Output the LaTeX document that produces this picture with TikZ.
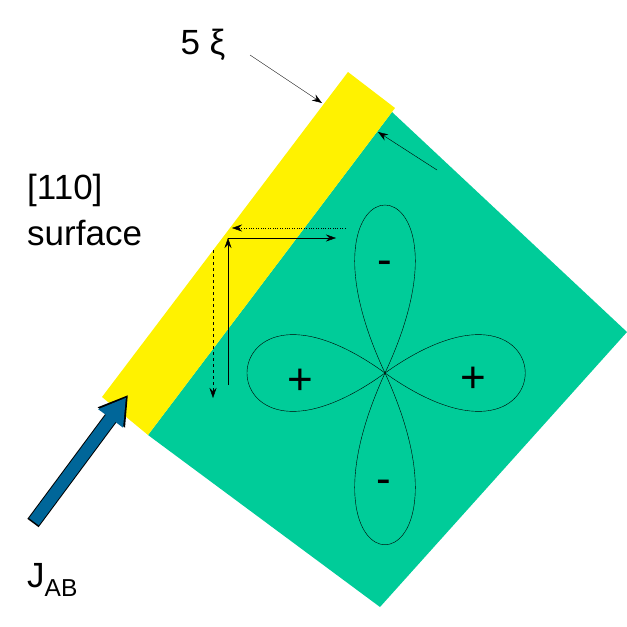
\documentclass[tikz,border=0pt]{standalone}
\usepackage{fontspec}
\setmainfont{Liberation Sans}
\usetikzlibrary{arrows.meta,calc}
\definecolor{sgreen}{RGB}{0,204,153}
\definecolor{sblue}{RGB}{0,102,153}
\begin{document}
\begin{tikzpicture}[x=1pt, y=-1pt,
    lbl/.style={font=\fontsize{35}{40}\selectfont, inner sep=0pt},
    sign/.style={font=\fontsize{44}{48}\selectfont, inner sep=0pt},
    lobe/.style={draw=black, thin},
    vec/.style={-{Stealth[length=10pt, width=7pt]}, thin}]
    \useasboundingbox (0,0) rectangle (627,627);

    % crystal and surface layer
    \fill[sgreen] (392,112) -- (627,332) -- (380,607) -- (148,435) -- cycle;
    \fill[yellow] (348,72) -- (395,108) -- (148,435) -- (102,397) -- cycle;

    % d-wave lobes
    \coordinate (c) at (385,373);
    \draw[lobe] (c) .. controls (280,149) and (490,149) .. (c);
    \draw[lobe] (c) .. controls (280,602) and (490,602) .. (c);
    \draw[lobe] (c) .. controls (201,240) and (201,506) .. (c);
    \draw[lobe] (c) .. controls (572,240) and (572,506) .. (c);
    \node[sign] (m1) at (385,268) {-};
    \node[sign] (p1) at (300,382) {+};
    \node[sign] (p2) at (473,380) {+};
    \node[sign] (m2) at (384,487) {-};

    % reflected trajectories
    \coordinate (a1) at (345,228);
    \coordinate (a2) at (232,228);
    \coordinate (b0) at (228,385);
    \coordinate (b1) at (228,238);
    \coordinate (b2) at (336,238);
    \coordinate (d1) at (213,250);
    \coordinate (d2) at (213,398);
    \draw[vec, dotted] (a1) -- (a2);
    \draw[vec] (b0) -- (b1);
    \draw[vec] (b1) -- (b2);
    \draw[vec, dashed] (d1) -- (d2);

    % labels
    \node[lbl] (xi) at (203,45) {5 ξ};
    \node[lbl, anchor=west] (s1) at (27,190) {[110]};
    \node[lbl, anchor=west] (s2) at (27,233) {surface};
    \node[lbl, anchor=west] (j) at (27,580) {J\textsubscript{AB}};
    \coordinate (xs) at (250,55);
    \coordinate (xe) at (322,103);
    \coordinate (gs) at (437,170);
    \coordinate (ge) at (378,132);
    \draw[vec] (xs) -- (xe);
    \draw[vec] (gs) -- (ge);

    % current
    \coordinate (js) at (33,523);
    \coordinate (je) at (128,395);
    \draw[-{Triangle[length=28pt, width=32pt]}, line width=14pt, draw=black] (js) -- (je);
    \draw[-{Triangle[length=26pt, width=29pt]}, line width=12pt, draw=sblue] ($(js)!0.01!(je)$) -- ($(je)!0.02!(js)$);
\end{tikzpicture}
\end{document}
